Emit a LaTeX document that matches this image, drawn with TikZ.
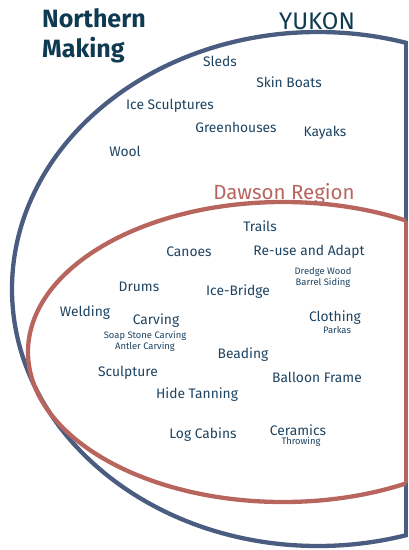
\documentclass[tikz,border=0pt]{standalone}
\usepackage{fontspec}
\setmainfont{Fira Sans}
\definecolor{yukonblue}{HTML}{4A5D80}
\definecolor{dawsonred}{HTML}{B8655E}
\definecolor{inktext}{HTML}{1D4361}
\definecolor{titletext}{HTML}{0E3A52}

\begin{document}
\begin{tikzpicture}[x=1pt,y=-1pt,
    craft/.style={text=inktext,inner sep=0pt,font=\fontsize{13.8}{16}\selectfont},
    craftnote/.style={text=inktext,inner sep=0pt,align=center,font=\fontsize{9.4}{11}\selectfont},
    regionlabel/.style={inner sep=0pt,font=\fontsize{24}{26}\selectfont}]
   \useasboundingbox (0,0) rectangle (408,550);

   %% Yukon
   \begin{scope}
     \clip (0,0) rectangle (408,550);
     \draw[yukonblue,line width=4.3pt] (318,289) ellipse [x radius=306,y radius=257];
   \end{scope}
   \fill[white] (408,0) rectangle (410,550);
   \draw[yukonblue,line width=4.3pt] (406,43) -- (406,535);

   %% Dawson
   \begin{scope}
     \clip (0,0) rectangle (406,550);
     \draw[dawsonred,line width=4.3pt] (283,352) ellipse [x radius=255,y radius=150];
   \end{scope}
   \draw[dawsonred,line width=4.3pt] (406,221) -- (406,483);

   %% Titel
   \node[anchor=west,align=left,text=titletext,inner sep=0pt,
     font=\fontsize{25}{30}\selectfont\bfseries] (northern) at (42,36) {Northern\\Making};
   \node[regionlabel,text=titletext] (yukon) at (317,21) {YUKON};
   \node[regionlabel,text=dawsonred,font=\fontsize{20.5}{22}\selectfont] (dawson) at (284,194) {Dawson Region};

   %% Yukon
   \node[craft] (sleds) at (220,61) {Sleds};
   \node[craft] (skinboats) at (289,82) {Skin Boats};
   \node[craft] (icesculptures) at (170,106) {Ice Sculptures};
   \node[craft] (greenhouses) at (236,127) {Greenhouses};
   \node[craft] (kayaks) at (325,133) {Kayaks};
   \node[craft] (wool) at (125,151) {Wool};

   %% Dawson
   \node[craft] (trails) at (260,226) {Trails};
   \node[craft] (canoes) at (189,252) {Canoes};
   \node[craft] (reuse) at (309,252) {Re-use and Adapt};
   \node[craftnote] (dredge) at (323,277) {Dredge Wood\\Barrel Siding};
   \node[craft] (drums) at (139,287) {Drums};
   \node[craft] (icebridge) at (238,292) {Ice-Bridge};
   \node[craft] (welding) at (85,313) {Welding};
   \node[craft] (carving) at (156,321) {Carving};
   \node[craftnote] (soapstone) at (145,341) {Soap Stone Carving\\Antler Carving};
   \node[craft] (clothing) at (335,318) {Clothing};
   \node[craftnote] (parkas) at (337,330) {Parkas};
   \node[craft] (beading) at (243,355) {Beading};
   \node[craft] (sculpture) at (128,373) {Sculpture};
   \node[craft] (balloon) at (317,377) {Balloon Frame};
   \node[craft] (hide) at (197,395) {Hide Tanning};
   \node[craft] (logcabins) at (203,435) {Log Cabins};
   \node[craft] (ceramics) at (298,430) {Ceramics};
   \node[craftnote] (throwing) at (301,442) {Throwing};
\end{tikzpicture}
\end{document}
